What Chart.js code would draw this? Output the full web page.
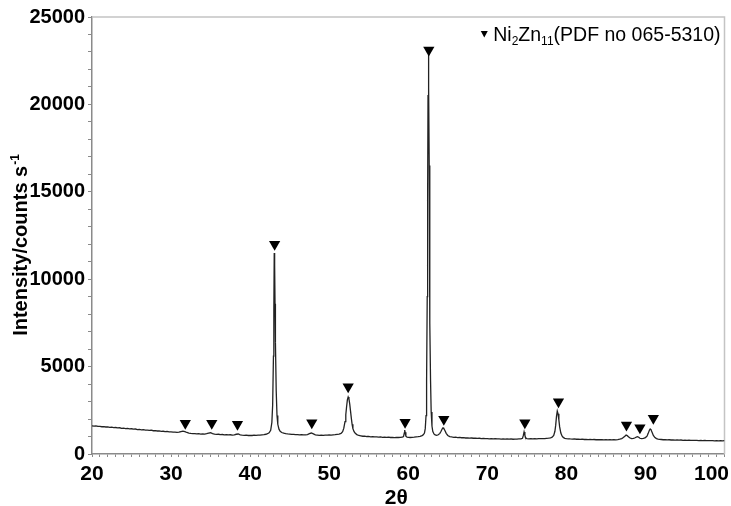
<!DOCTYPE html>
<html>
<head>
<meta charset="utf-8">
<script src="https://cdn.jsdelivr.net/npm/chart.js@4.4.0/dist/chart.umd.min.js"></script>
<style>
  html, body { margin: 0; padding: 0; background: #fff; }
  canvas { display: block; }
</style>
</head>
<body>
<canvas id="xrd" width="731" height="506"></canvas>
<script>
// XRD pattern: [2theta, counts per second]
const trace = [
  [20,1610],[20.25,1590],[20.5,1605],[20.75,1575],[21,1580],[21.25,1560],[21.5,1570],[21.75,1545],
  [22,1550],[22.25,1525],[22.5,1535],[22.75,1510],[23,1515],[23.25,1490],[23.5,1500],[23.75,1470],
  [24,1480],[24.25,1455],[24.5,1465],[24.75,1440],[25,1445],[25.25,1420],[25.5,1430],[25.75,1400],
  [26,1410],[26.25,1385],[26.5,1395],[26.75,1365],[27,1370],[27.25,1350],[27.5,1360],[27.75,1330],
  [28,1335],[28.25,1315],[28.5,1320],[28.75,1295],[29,1300],[29.25,1280],[29.5,1290],[29.75,1265],
  [30,1270],[30.25,1250],[30.5,1255],[30.75,1240],[31,1250],[31.25,1285],[31.5,1310],[31.75,1280],
  [32,1230],[32.25,1200],[32.5,1180],[32.75,1165],[33,1170],[33.25,1150],[33.5,1160],[33.75,1140],
  [34,1150],[34.25,1135],[34.5,1160],[34.75,1200],[35,1215],[35.25,1170],[35.5,1140],[35.75,1120],
  [36,1130],[36.25,1105],[36.5,1115],[36.75,1095],[37,1105],[37.25,1090],[37.5,1100],[37.75,1085],
  [38,1100],[38.25,1130],[38.5,1145],[38.75,1100],[39,1080],[39.25,1065],[39.5,1075],[39.75,1060],
  [40,1070],[40.25,1060],[40.5,1075],[40.75,1065],[41,1080],[41.25,1075],[41.5,1095],[41.75,1110],
  [42,1130],[42.2,1160],[42.4,1210],[42.6,1360],[42.75,1800],[42.85,2800],[42.95,5600],[43,8200],
  [43.05,11500],[43.1,10800],[43.15,8600],[43.2,6400],[43.3,3600],[43.4,2200],[43.5,1700],[43.65,1420],
  [43.8,1300],[44,1230],[44.25,1190],[44.5,1165],[44.75,1150],[45,1140],[45.25,1120],[45.5,1125],
  [45.75,1105],[46,1110],[46.25,1095],[46.5,1100],[46.75,1090],[47,1095],[47.25,1110],[47.5,1160],
  [47.75,1200],[48,1150],[48.25,1100],[48.5,1085],[48.75,1070],[49,1080],[49.25,1065],[49.5,1075],
  [49.75,1080],[50,1090],[50.25,1085],[50.5,1100],[50.75,1110],[51,1125],[51.25,1140],[51.5,1175],
  [51.7,1280],[51.85,1480],[52,1850],[52.1,2250],[52.2,2700],[52.3,3100],[52.4,3260],[52.5,3150],
  [52.6,2850],[52.7,2450],[52.8,2050],[52.9,1700],[53,1450],[53.15,1280],[53.3,1180],[53.5,1110],
  [53.75,1060],[54,1040],[54.25,1015],[54.5,1020],[54.75,1000],[55,1005],[55.25,985],[55.5,995],
  [55.75,975],[56,980],[56.25,965],[56.5,975],[56.75,955],[57,965],[57.25,950],[57.5,960],
  [57.75,945],[58,955],[58.25,940],[58.5,950],[58.75,945],[59,955],[59.25,960],[59.4,1000],
  [59.5,1200],[59.55,1370],[59.6,1250],[59.7,1020],[59.85,960],[60,950],[60.25,945],[60.5,955],
  [60.75,960],[61,975],[61.25,990],[61.5,1010],[61.75,1050],[61.9,1100],[62.05,1200],[62.15,1450],
  [62.25,2200],[62.32,4200],[62.4,9000],[62.45,14500],[62.5,20500],[62.55,22900],[62.6,21000],[62.65,16500],
  [62.7,11500],[62.75,7500],[62.82,4200],[62.9,2400],[63,1600],[63.1,1300],[63.25,1150],[63.4,1090],
  [63.6,1070],[63.8,1100],[64,1180],[64.15,1300],[64.3,1440],[64.4,1500],[64.5,1450],[64.65,1330],
  [64.8,1180],[65,1060],[65.25,1000],[65.5,975],[65.75,955],[66,960],[66.25,940],[66.5,950],
  [66.75,930],[67,935],[67.25,915],[67.5,925],[67.75,905],[68,915],[68.25,900],[68.5,905],
  [68.75,890],[69,900],[69.25,880],[69.5,890],[69.75,875],[70,885],[70.25,870],[70.5,880],
  [70.75,865],[71,875],[71.25,860],[71.5,870],[71.75,855],[72,865],[72.25,850],[72.5,860],
  [72.75,850],[73,860],[73.25,845],[73.5,855],[73.75,850],[74,860],[74.25,865],[74.45,900],
  [74.55,1050],[74.65,1260],[74.75,1080],[74.85,920],[75,880],[75.25,870],[75.5,875],[75.75,865],
  [76,875],[76.25,870],[76.5,880],[76.75,875],[77,885],[77.25,880],[77.5,895],[77.75,905],
  [78,925],[78.2,960],[78.4,1060],[78.55,1300],[78.65,1650],[78.75,2150],[78.85,2460],[78.95,2300],
  [79.05,1950],[79.15,1550],[79.3,1200],[79.45,1030],[79.6,950],[79.8,900],[80,880],[80.25,870],
  [80.5,860],[80.75,855],[81,860],[81.25,845],[81.5,850],[81.75,835],[82,845],[82.25,830],
  [82.5,840],[82.75,825],[83,835],[83.25,820],[83.5,830],[83.75,815],[84,825],[84.25,815],
  [84.5,820],[84.75,810],[85,820],[85.25,810],[85.5,815],[85.75,805],[86,815],[86.25,810],
  [86.5,825],[86.75,845],[87,880],[87.2,940],[87.4,1020],[87.55,1080],[87.7,1050],[87.85,990],
  [88,930],[88.25,880],[88.5,890],[88.7,930],[88.85,970],[89,990],[89.15,960],[89.3,900],
  [89.5,880],[89.75,900],[90,940],[90.2,1020],[90.35,1180],[90.5,1360],[90.6,1430],[90.7,1390],
  [90.85,1230],[91,1060],[91.2,940],[91.4,880],[91.6,850],[91.8,835],[92,830],[92.25,815],
  [92.5,825],[92.75,805],[93,815],[93.25,800],[93.5,810],[93.75,795],[94,805],[94.25,790],
  [94.5,800],[94.75,785],[95,795],[95.25,780],[95.5,790],[95.75,775],[96,785],[96.25,775],
  [96.5,780],[96.75,770],[97,780],[97.25,765],[97.5,775],[97.75,760],[98,770],[98.25,760],
  [98.5,770],[98.75,755],[99,765],[99.25,755],[99.5,765],[99.75,750],[100,760]
];

// Ni2Zn11 reflection markers (triangles above the peaks)
const peakAngles   = [31.8, 35.15, 38.4, 43.1, 47.8, 52.4, 59.6, 62.6, 64.5, 74.75, 79.0, 87.6, 89.3, 91.0];
const markerCounts = [1760, 1760, 1700, 12000, 1790, 3850, 1810, 23110, 1985, 1790, 2990, 1660, 1500, 2040];

const xTickLabels = [20, 30, 40, 50, 60, 70, 80, 90, 100];
const yTickLabels = [0, 5000, 10000, 15000, 20000, 25000];

const FONT = '"Liberation Sans", Arial, sans-serif';

const extras = {
  id: 'extras',
  beforeDatasetsDraw(chart) {
    const ctx = chart.ctx, a = chart.chartArea;
    ctx.save();
    ctx.strokeStyle = '#c4c4c4';
    ctx.lineWidth = 1.5;
    ctx.beginPath();
    ctx.moveTo(a.left, a.top);
    ctx.lineTo(a.right, a.top);
    ctx.lineTo(a.right, a.bottom);
    ctx.stroke();
    ctx.restore();
  },
  afterDraw(chart) {
    const ctx = chart.ctx, a = chart.chartArea, xs = chart.scales.x;
    ctx.save();
    ctx.fillStyle = '#000';
    ctx.textBaseline = 'alphabetic';

    // x tick labels, last one kept inside the canvas
    ctx.font = 'bold 21px ' + FONT;
    xTickLabels.forEach(v => {
      const s = String(v);
      const w = ctx.measureText(s).width;
      let px = xs.getPixelForValue(v) - w / 2;
      if (px + w > chart.width - 2) px = chart.width - 2 - w;
      ctx.fillText(s, px, a.bottom + 26);
    });

    // x title
    ctx.textAlign = 'center';
    ctx.fillText('2θ', (a.left + a.right) / 2 - 12, chart.height - 2);

    // y title with superscript
    ctx.textAlign = 'left';
    const main = 'Intensity/counts s';
    const sup = '-1';
    ctx.font = 'bold 20px ' + FONT;
    const wMain = ctx.measureText(main).width;
    ctx.font = 'bold 12px ' + FONT;
    const wSup = ctx.measureText(sup).width;
    ctx.translate(27, (a.top + a.bottom) / 2 + 10);
    ctx.rotate(-Math.PI / 2);
    const start = -(wMain + wSup) / 2;
    ctx.font = 'bold 20px ' + FONT;
    ctx.fillText(main, start, 0);
    ctx.font = 'bold 12px ' + FONT;
    ctx.fillText(sup, start + wMain + 1, -8);
    ctx.setTransform(1, 0, 0, 1, 0, 0);

    // legend: triangle + Ni2Zn11(PDF no 065-5310)
    const parts = [['Ni', 0], ['2', 1], ['Zn', 0], ['11', 1], ['(PDF no 065-5310)', 0]];
    let total = 0;
    parts.forEach(p => {
      ctx.font = (p[1] ? '12px ' : '19.5px ') + FONT;
      total += ctx.measureText(p[0]).width;
    });
    let tx = a.right - 4 - total;
    const base = a.top + 24;
    parts.forEach(p => {
      ctx.font = (p[1] ? '12px ' : '19.5px ') + FONT;
      ctx.fillText(p[0], tx, base + (p[1] ? 4 : 0));
      tx += ctx.measureText(p[0]).width;
    });
    const cx = a.right - 4 - total - 9, cy = base - 7;
    ctx.beginPath();
    ctx.moveTo(cx - 3.5, cy - 3);
    ctx.lineTo(cx + 3.5, cy - 3);
    ctx.lineTo(cx, cy + 3.5);
    ctx.closePath();
    ctx.fill();
    ctx.restore();
  }
};

new Chart(document.getElementById('xrd'), {
  type: 'scatter',
  data: {
    datasets: [
      {
        label: 'pattern',
        data: trace.map(p => ({ x: p[0], y: p[1] })),
        showLine: true,
        borderColor: '#222',
        borderWidth: 1.3,
        pointRadius: 0,
        tension: 0,
        order: 2
      },
      {
        label: 'Ni2Zn11',
        data: peakAngles.map((x, i) => ({ x: x, y: markerCounts[i] })),
        showLine: false,
        pointStyle: 'triangle',
        rotation: 180,
        pointRadius: 6.5,
        backgroundColor: '#000',
        borderWidth: 0,
        order: 1
      }
    ]
  },
  options: {
    responsive: false,
    animation: false,
    layout: { padding: { top: 17, right: 4, left: 0, bottom: 0 } },
    plugins: { legend: { display: false }, tooltip: { enabled: false } },
    scales: {
      x: {
        type: 'linear',
        min: 20,
        max: 100,
        border: { color: '#8a8a8a', width: 1.5 },
        grid: { drawOnChartArea: false, drawTicks: true, tickLength: 3, color: '#8a8a8a' },
        ticks: { display: false, stepSize: 1, autoSkip: false },
        afterFit: s => { s.height = 52; }
      },
      y: {
        min: 0,
        max: 25000,
        border: { color: '#8a8a8a', width: 1.5 },
        grid: { drawOnChartArea: false, drawTicks: true, tickLength: 4, color: '#8a8a8a' },
        ticks: {
          stepSize: 1000,
          autoSkip: false,
          padding: 3,
          color: '#000',
          font: { family: FONT, size: 20, weight: 'bold' },
          callback: v => (yTickLabels.includes(v) ? String(v) : '')
        },
        afterFit: s => { s.width = 92; }
      }
    }
  },
  plugins: [extras]
});
</script>
</body>
</html>
